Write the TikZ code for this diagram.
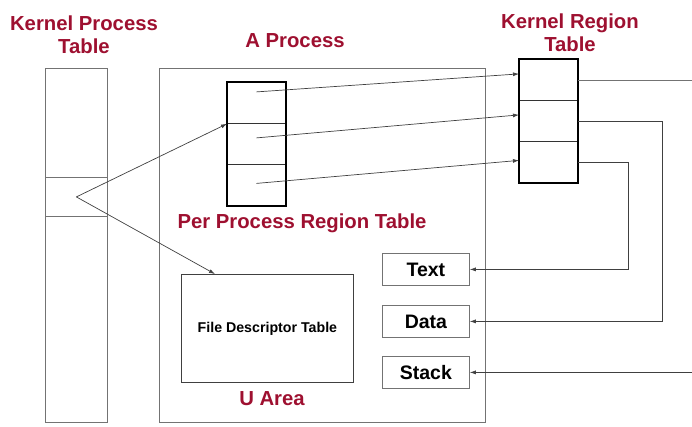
\documentclass[tikz,border=0pt]{standalone}
\usepackage{fontspec}
\setmainfont{Liberation Sans}
\usetikzlibrary{arrows.meta}
\definecolor{titlered}{RGB}{158,16,48}

\begin{document}
\begin{tikzpicture}[x=1pt,y=-1pt]
	\tikzstyle{title}=[text=titlered,font=\fontsize{20.3}{23}\selectfont\bfseries,align=center,inner sep=0pt]
	\tikzstyle{cell}=[draw=black!55,line width=0.8pt,inner sep=0pt,anchor=north west]
	\tikzstyle{row}=[cell,draw=black!80,minimum width=58,minimum height=41]
	\tikzstyle{seg}=[cell,minimum width=87,minimum height=32,font=\fontsize{19.5}{21}\selectfont\bfseries]
	\tikzstyle{conn}=[draw=black!75,line width=0.7pt]
	\tikzstyle{arr}=[conn,-{Latex[length=6pt,width=4pt]}]
	\useasboundingbox (0,0) rectangle (692,426);
	% kernel process table
	\node[cell,minimum width=62,minimum height=109] (kp0) at (45,68) {};
	\node[cell,minimum width=62,minimum height=39] (kp1) at (45,177) {};
	\node[cell,minimum width=62,minimum height=206] (kp2) at (45,216) {};
	% process and its u area
	\node[cell,minimum width=326,minimum height=354] (proc) at (159,68) {};
	\node[cell,draw=black!75,minimum width=172,minimum height=108,font=\fontsize{14.2}{16}\selectfont\bfseries] (fdt) at (181,274) {File Descriptor Table};
	% per process region table
	\node[row] (pr1) at (227,82) {};
	\node[row] (pr2) at (227,123) {};
	\node[row] (pr3) at (227,164) {};
	\draw[line width=2pt] (pr1.north west) rectangle (pr3.south east);
	% kernel region table
	\node[row] (kr1) at (519,59) {};
	\node[row] (kr2) at (519,100) {};
	\node[row] (kr3) at (519,141) {};
	\draw[line width=2pt] (kr1.north west) rectangle (kr3.south east);
	% regions
	\node[seg] (txt) at (382,253) {Text};
	\node[seg] (dat) at (382,305) {Data};
	\node[seg] (stk) at (382,356) {Stack};
	% titles
	\node[title] (kptname) at (84,35) {Kernel Process\\Table};
	\node[title] (procname) at (295,41) {A Process};
	\node[title] (krtname) at (570,33) {Kernel Region\\Table};
	\node[title] (prtname) at (302,223) {Per Process Region Table};
	\node[title] (uname) at (272,399) {U Area};
	% connectors
	\coordinate (rim) at (692,0);
	\coordinate (bend2) at (662,0);
	\coordinate (bend3) at (628,0);
	\draw[arr] (kp1.center) -- (pr1.south west);
	\draw[arr] (kp1.center) -- ([xshift=34pt]fdt.north west);
	\draw[arr] ([yshift=11pt]pr1.center) -- ([yshift=6pt]kr1.west);
	\draw[arr] ([yshift=6pt]pr2.center) -- ([yshift=6pt]kr2.west);
	\draw[arr] ([yshift=1.5pt]pr3.center) -- ([yshift=1.5pt]kr3.west);
	\draw[conn,draw=black!55] (kr1.east) -- (kr1.east -| rim);
	\draw[arr] (kr2.east) -- (kr2.east -| bend2) -- (bend2 |- dat.east) -- (dat.east);
	\draw[arr] (kr3.east) -- (kr3.east -| bend3) -- (bend3 |- txt.east) -- (txt.east);
	\draw[arr] (stk.east -| rim) -- (stk.east);
\end{tikzpicture}
\end{document}
